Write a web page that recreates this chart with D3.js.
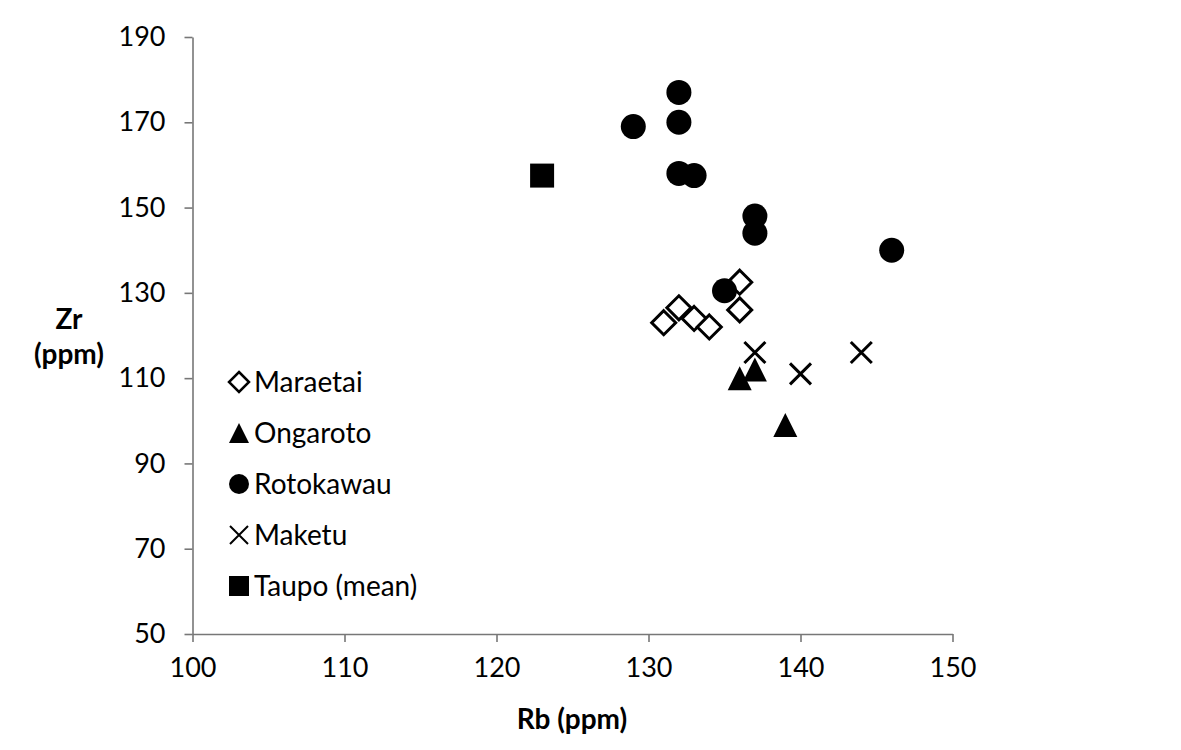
<!doctype html>
<html lang="en">
<head>
    <meta charset="utf-8">
    <title>Zr vs Rb</title>
    <script src="https://cdnjs.cloudflare.com/ajax/libs/d3/7.8.5/d3.min.js"></script>
    <style>
        body { margin: 0; background: #fff; }
        svg text { font-family: 'Lato', sans-serif; fill: #000; }
        .axis path, .axis line { stroke: #777; stroke-width: 1.6; }
        .axis text { font-size: 27px; }
    </style>
</head>
<body>
<svg id="chart" width="1181" height="750"></svg>
<script>
    // data: [Rb, Zr]
    const maraetai = [[131, 123], [132, 126.5], [133, 124], [134, 122], [136, 132.5], [136, 126]];
    const ongaroto = [[136, 110], [137, 112], [139, 99]];
    const rotokawau = [[132, 177], [129, 169], [132, 170], [132, 158], [133, 157.5], [137, 148], [137, 144], [146, 140], [135, 130.5]];
    const maketu = [[137, 116], [140, 111], [144, 116]];
    const taupo = [[123, 157.5]];

    const xTicks = [100, 110, 120, 130, 140, 150];
    const yTicks = [50, 70, 90, 110, 130, 150, 170, 190];

    const series = [
        {name: "Maraetai", shape: "diamond", pts: maraetai},
        {name: "Ongaroto", shape: "triangle", pts: ongaroto},
        {name: "Rotokawau", shape: "circle", pts: rotokawau},
        {name: "Maketu", shape: "cross", pts: maketu},
        {name: "Taupo (mean)", shape: "square", pts: taupo}
    ];

    const svg = d3.select("#chart");
    const x = d3.scaleLinear().domain([100, 150]).range([192.5, 952.5]);
    const y = d3.scaleLinear().domain([50, 190]).range([634, 37]);

    // marker path centred on 0,0, s = overall size in px
    function shapePath(shape, s) {
        const h = s / 2;
        if (shape === "circle") return d3.symbol(d3.symbolCircle, Math.PI * h * h)();
        if (shape === "square") return `M${-h},${-h}H${h}V${h}H${-h}Z`;
        if (shape === "diamond") return `M0,${-h}L${h},0L0,${h}L${-h},0Z`;
        if (shape === "triangle") return `M0,${-h}L${h},${h}L${-h},${h}Z`;
        return `M${-h},${-h}L${h},${h}M${h},${-h}L${-h},${h}`;
    }
    function styleMark(sel, shape) {
        if (shape === "diamond") sel.attr("fill", "#fff").attr("stroke", "#000").attr("stroke-width", 3);
        else if (shape === "cross") sel.attr("fill", "none").attr("stroke", "#000").attr("stroke-width", 3);
        else sel.attr("fill", "#000");
    }
    const markSize = {diamond: 24, triangle: 24, circle: 25, cross: 21, square: 24};

    svg.append("g").attr("class", "axis")
        .attr("transform", "translate(0,634)")
        .call(d3.axisBottom(x).tickValues(xTicks).tickSize(8).tickSizeOuter(0).tickPadding(13))
        .selectAll("text").attr("dy", "0.8em");

    svg.append("g").attr("class", "axis")
        .attr("transform", "translate(192.5,0)")
        .call(d3.axisLeft(y).tickValues(yTicks).tickSize(8).tickSizeOuter(0).tickPadding(19));

    svg.selectAll(".axis .domain").attr("stroke", "#777");

    // axis titles
    svg.append("text").attr("x", 572).attr("y", 729).attr("text-anchor", "middle")
        .attr("font-size", 28).attr("font-weight", "bold").text("Rb (ppm)");
    svg.append("text").attr("x", 69).attr("y", 329).attr("text-anchor", "middle")
        .attr("font-size", 28).attr("font-weight", "bold").text("Zr");
    svg.append("text").attr("x", 69).attr("y", 364).attr("text-anchor", "middle")
        .attr("font-size", 28).attr("font-weight", "bold").text("(ppm)");

    // points, drawn in series order
    series.forEach(s => {
        svg.append("g").selectAll("path")
            .data(s.pts)
            .enter()
            .append("path")
            .attr("transform", d => `translate(${x(d[0])},${y(d[1])})`)
            .attr("d", shapePath(s.shape, markSize[s.shape]))
            .call(styleMark, s.shape);
    });

    // legend
    const legend = svg.append("g").selectAll("g")
        .data(series)
        .enter()
        .append("g")
        .attr("transform", (d, i) => `translate(239,${382 + i * 51})`);
    legend.append("path")
        .attr("d", d => shapePath(d.shape, d.shape === "cross" ? 18 : 20))
        .each(function(d) { d3.select(this).call(styleMark, d.shape); })
        .attr("stroke-width", d => d.shape === "diamond" ? 2.5 : d.shape === "cross" ? 2 : null);
    legend.append("text")
        .attr("x", 15).attr("y", 10)
        .attr("font-size", 28)
        .text(d => d.name);
</script>
</body>
</html>
